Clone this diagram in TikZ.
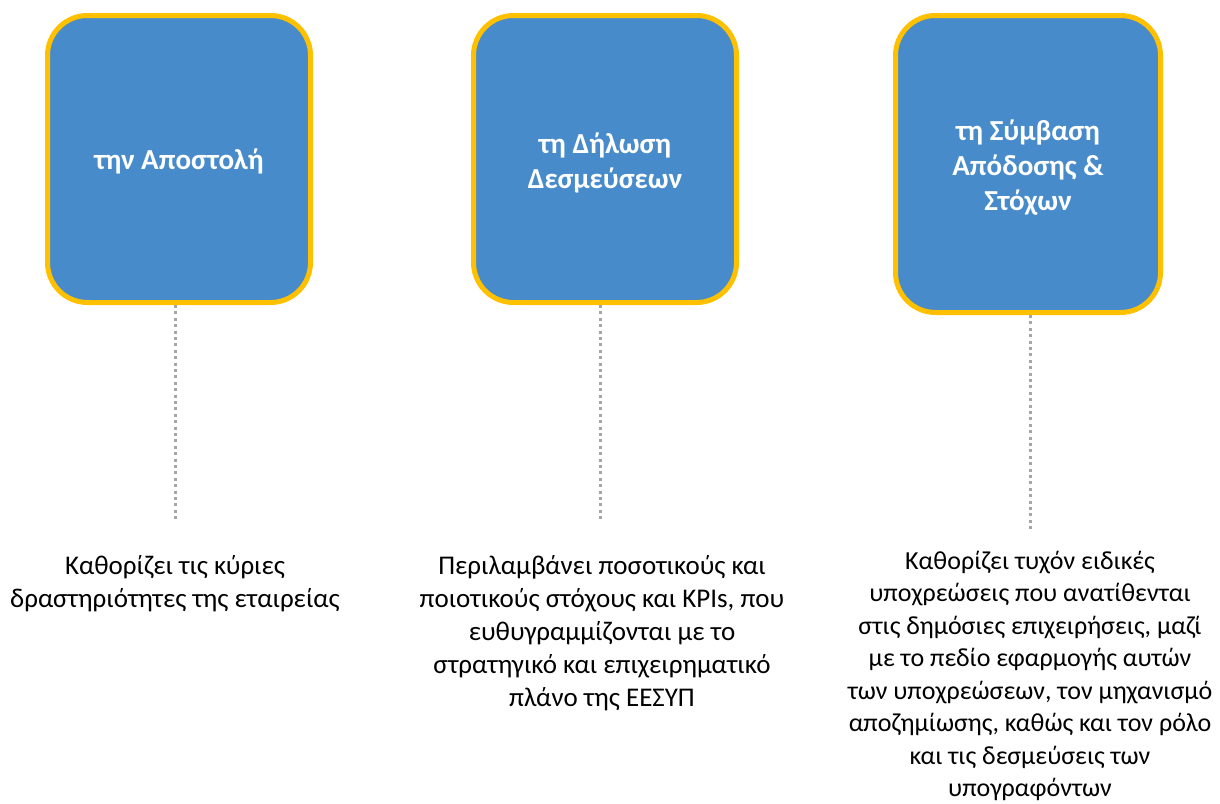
\documentclass[tikz,border=0pt]{standalone}
\usepackage{fontspec}
\setmainfont{Carlito}
\definecolor{boxblue}{HTML}{478BCB}
\definecolor{boxyellow}{HTML}{FFC000}
\definecolor{dotgray}{HTML}{A6A6A6}
\begin{document}
\begin{tikzpicture}[x=1pt,y=-1pt,
  card/.style={draw=boxyellow,fill=boxblue,line width=5pt,rounded corners=40pt,
    minimum width=263pt,minimum height=287pt,inner sep=0pt},
  title/.style={text=white,font=\fontsize{29}{35}\selectfont\bfseries,align=center,inner sep=0pt},
  desc/.style={font=\fontsize{27}{33}\selectfont,align=center,inner sep=0pt,text=black},
  link/.style={draw=dotgray,line width=3pt,dash pattern=on 3pt off 3.4pt}]
\useasboundingbox (0,0) rectangle (1220,803);
\node[card] (b1) at (179,159) {};
\node[card] (b2) at (605,159) {};
\node[card,minimum width=265pt,minimum height=297pt] (b3) at (1028,164) {};
\node[title] (h1) at ([yshift=-2pt]b1.center) {την Αποστολή};
\node[title] (h2) at ([yshift=-4pt]b2.center) {τη Δήλωση\\Δεσμεύσεων};
\node[title] (h3) at ([yshift=-4pt]b3.center) {τη Σύμβαση\\Απόδοσης \&\\Στόχων};
\coordinate (e1) at (175,520);
\coordinate (e2) at (600,520);
\coordinate (e3) at (1030,532);
\draw[link] (b1.south -| e1) -- (e1);
\draw[link] (b2.south -| e2) -- (e2);
\draw[link] (b3.south -| e3) -- (e3);
\node[desc] (t1) at (175,584) {Καθορίζει τις κύριες\\δραστηριότητες της εταιρείας};
\node[desc] (t2) at (602,633) {Περιλαμβάνει ποσοτικούς και\\ποιοτικούς στόχους και KPIs, που\\ευθυγραμμίζονται με το\\στρατηγικό και επιχειρηματικό\\πλάνο της ΕΕΣΥΠ};
\node[desc,font=\fontsize{26}{32.5}\selectfont] (t3) at (1030,676) {Καθορίζει τυχόν ειδικές\\υποχρεώσεις που ανατίθενται\\στις δημόσιες επιχειρήσεις, μαζί\\με το πεδίο εφαρμογής αυτών\\των υποχρεώσεων, τον μηχανισμό\\αποζημίωσης, καθώς και τον ρόλο\\και τις δεσμεύσεις των\\υπογραφόντων};
\end{tikzpicture}
\end{document}
